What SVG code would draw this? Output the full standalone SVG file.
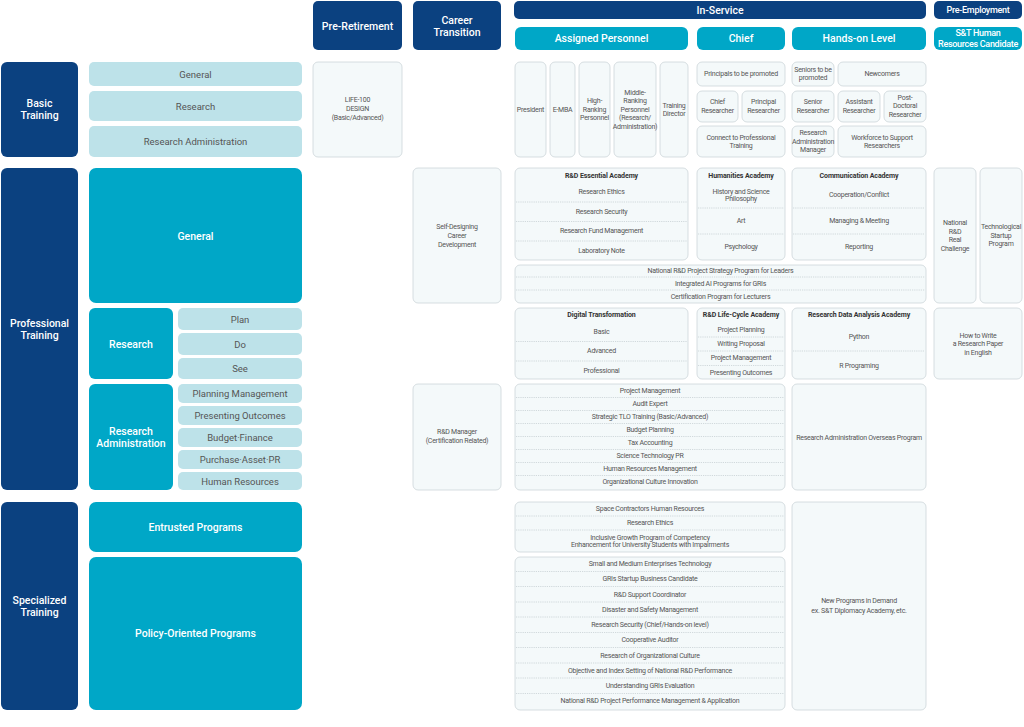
<svg xmlns="http://www.w3.org/2000/svg" width="1024" height="727" viewBox="0 0 1024 727">
<style>
.dk{fill:#0B4180}
.tl{fill:#00A7C7}
.lt{fill:#BDE2E9}
.wb{fill:#F4F9FA;stroke:#CDD6D9;stroke-width:0.8}
.dot{stroke:#B9C3C7;stroke-width:0.6;stroke-dasharray:1.2 1}
text{font-family:Roboto,"Noto Sans","Liberation Sans",sans-serif;text-anchor:middle;dominant-baseline:central}
.hw{fill:#FFFFFF;font-size:10.5px;font-weight:500}
.hs{fill:#FFFFFF;font-size:9px;font-weight:500;letter-spacing:-0.3px}
.lg{fill:#555555;font-size:9.5px}
.sm{fill:#555555;font-size:7px;letter-spacing:-0.25px}
.tt{fill:#333333;font-size:7px;font-weight:bold;letter-spacing:-0.1px}
</style>
<rect width="1024" height="727" fill="#FFFFFF"/>

<!-- Headers -->
<g id="h-pre-retirement"><rect class="dk" x="313" y="1" width="89" height="49" rx="5"/><text class="hw" x="357.5" y="26">Pre-Retirement</text></g>
<g id="h-career-transition"><rect class="dk" x="413" y="1" width="88" height="49" rx="5"/><text class="hw" x="457" y="20">Career</text><text class="hw" x="457" y="32">Transition</text></g>
<g id="h-in-service"><rect class="dk" x="514" y="1" width="412" height="18" rx="5"/><text class="hw" x="720" y="10">In-Service</text></g>
<g id="h-pre-employment"><rect class="dk" x="934" y="1" width="88" height="18" rx="5"/><text class="hs" x="978" y="10">Pre-Employment</text></g>
<g id="h-assigned"><rect class="tl" x="515" y="27" width="173" height="23" rx="6"/><text class="hw" x="601.5" y="38.5">Assigned Personnel</text></g>
<g id="h-chief"><rect class="tl" x="697" y="27" width="88" height="23" rx="6"/><text class="hw" x="741" y="38.5">Chief</text></g>
<g id="h-hands-on"><rect class="tl" x="792" y="27" width="134" height="23" rx="6"/><text class="hw" x="859" y="38.5">Hands-on Level</text></g>
<g id="h-candidate"><rect class="tl" x="934" y="27" width="88" height="23" rx="6"/><text class="hs" x="978" y="33">S&amp;T Human</text><text class="hs" x="978" y="44">Resources Candidate</text></g>

<!-- Left column -->
<g id="basic-training"><rect class="dk" x="1" y="62" width="77" height="95" rx="6"/><text class="hw" x="39.5" y="103">Basic</text><text class="hw" x="39.5" y="115">Training</text></g>
<g id="basic-general"><rect class="lt" x="89" y="62" width="213" height="24" rx="5"/><text class="lg" x="195.5" y="74">General</text></g>
<g id="basic-research"><rect class="lt" x="89" y="91" width="213" height="30" rx="5"/><text class="lg" x="195.5" y="106">Research</text></g>
<g id="basic-research-admin"><rect class="lt" x="89" y="126" width="213" height="31" rx="5"/><text class="lg" x="195.5" y="141.5">Research Administration</text></g>

<g id="professional-training"><rect class="dk" x="1" y="168" width="77" height="322" rx="6"/><text class="hw" x="39.5" y="323">Professional</text><text class="hw" x="39.5" y="335">Training</text></g>
<g id="prof-general"><rect class="tl" x="89" y="168" width="213" height="135" rx="7"/><text class="hw" x="195.5" y="236">General</text></g>
<g id="prof-research"><rect class="tl" x="89" y="308" width="84" height="71" rx="6"/><text class="hw" x="131" y="344">Research</text></g>
<g id="prof-plan"><rect class="lt" x="178" y="308" width="124" height="22" rx="5"/><text class="lg" x="240" y="319">Plan</text></g>
<g id="prof-do"><rect class="lt" x="178" y="333" width="124" height="22" rx="5"/><text class="lg" x="240" y="344">Do</text></g>
<g id="prof-see"><rect class="lt" x="178" y="358" width="124" height="21" rx="5"/><text class="lg" x="240" y="368.5">See</text></g>
<g id="prof-research-admin"><rect class="tl" x="89" y="384" width="84" height="106" rx="6"/><text class="hw" x="131" y="431">Research</text><text class="hw" x="131" y="443">Administration</text></g>
<g id="prof-planning-mgmt"><rect class="lt" x="178" y="384" width="124" height="19" rx="5"/><text class="lg" x="240" y="393.5">Planning Management</text></g>
<g id="prof-presenting"><rect class="lt" x="178" y="406" width="124" height="19" rx="5"/><text class="lg" x="240" y="415.5">Presenting Outcomes</text></g>
<g id="prof-budget"><rect class="lt" x="178" y="428" width="124" height="19" rx="5"/><text class="lg" x="240" y="437.5">Budget·Finance</text></g>
<g id="prof-purchase"><rect class="lt" x="178" y="450" width="124" height="19" rx="5"/><text class="lg" x="240" y="459.5">Purchase·Asset·PR</text></g>
<g id="prof-hr"><rect class="lt" x="178" y="472" width="124" height="18" rx="5"/><text class="lg" x="240" y="481">Human Resources</text></g>

<g id="specialized-training"><rect class="dk" x="1" y="502" width="77" height="208" rx="6"/><text class="hw" x="39.5" y="600">Specialized</text><text class="hw" x="39.5" y="612">Training</text></g>
<g id="spec-entrusted"><rect class="tl" x="89" y="502" width="213" height="50" rx="7"/><text class="hw" x="195.5" y="527">Entrusted Programs</text></g>
<g id="spec-policy"><rect class="tl" x="89" y="557" width="213" height="153" rx="7"/><text class="hw" x="195.5" y="633">Policy-Oriented Programs</text></g>

<!-- Pre-retirement / career transition -->
<g id="life-100"><rect class="wb" x="313" y="62" width="89" height="95" rx="5"/><text class="sm" x="357.5" y="100">LIFE-100</text><text class="sm" x="357.5" y="109">DESIGN</text><text class="sm" x="357.5" y="118">(Basic/Advanced)</text></g>
<g id="self-designing"><rect class="wb" x="413" y="168" width="88" height="135" rx="5"/><text class="sm" x="457" y="227">Self-Designing</text><text class="sm" x="457" y="236">Career</text><text class="sm" x="457" y="245">Development</text></g>
<g id="rd-manager"><rect class="wb" x="413" y="384" width="88" height="106" rx="5"/><text class="sm" x="457" y="432">R&amp;D Manager</text><text class="sm" x="457" y="441">(Certification Related)</text></g>

<!-- Basic training: in-service -->
<g id="president"><rect class="wb" x="515" y="62" width="31" height="95" rx="5"/><text class="sm" x="530.5" y="109.5">President</text></g>
<g id="e-mba"><rect class="wb" x="550" y="62" width="25" height="95" rx="5"/><text class="sm" x="562.5" y="109.5">E-MBA</text></g>
<g id="high-ranking"><rect class="wb" x="579" y="62" width="31" height="95" rx="5"/><text class="sm" x="594.5" y="101">High-</text><text class="sm" x="594.5" y="109.5">Ranking</text><text class="sm" x="594.5" y="118">Personnel</text></g>
<g id="middle-ranking"><rect class="wb" x="614" y="62" width="42" height="95" rx="5"/><text class="sm" x="635" y="92.5">Middle-</text><text class="sm" x="635" y="101">Ranking</text><text class="sm" x="635" y="109.5">Personnel</text><text class="sm" x="635" y="118">(Research/</text><text class="sm" x="635" y="126.5">Administration)</text></g>
<g id="training-director"><rect class="wb" x="660" y="62" width="28" height="95" rx="5"/><text class="sm" x="674" y="105.5">Training</text><text class="sm" x="674" y="114">Director</text></g>

<g id="principals-promoted"><rect class="wb" x="697" y="62" width="88" height="24" rx="5"/><text class="sm" x="741" y="74">Principals to be promoted</text></g>
<g id="chief-researcher"><rect class="wb" x="697" y="91" width="41" height="31" rx="5"/><text class="sm" x="717.5" y="102">Chief</text><text class="sm" x="717.5" y="110.5">Researcher</text></g>
<g id="principal-researcher"><rect class="wb" x="742" y="91" width="43" height="31" rx="5"/><text class="sm" x="763.5" y="102">Principal</text><text class="sm" x="763.5" y="110.5">Researcher</text></g>
<g id="connect-professional"><rect class="wb" x="697" y="126" width="88" height="31" rx="5"/><text class="sm" x="741" y="137.5">Connect to Professional</text><text class="sm" x="741" y="146">Training</text></g>

<g id="seniors-promoted"><rect class="wb" x="792" y="62" width="42" height="24" rx="5"/><text class="sm" x="813" y="69.5">Seniors to be</text><text class="sm" x="813" y="78">promoted</text></g>
<g id="newcomers"><rect class="wb" x="838" y="62" width="88" height="24" rx="5"/><text class="sm" x="882" y="74">Newcomers</text></g>
<g id="senior-researcher"><rect class="wb" x="792" y="91" width="42" height="31" rx="5"/><text class="sm" x="813" y="102">Senior</text><text class="sm" x="813" y="110.5">Researcher</text></g>
<g id="assistant-researcher"><rect class="wb" x="838" y="91" width="42" height="31" rx="5"/><text class="sm" x="859" y="102">Assistant</text><text class="sm" x="859" y="110.5">Researcher</text></g>
<g id="postdoc"><rect class="wb" x="884" y="91" width="42" height="31" rx="5"/><text class="sm" x="905" y="97.5">Post-</text><text class="sm" x="905" y="106">Doctoral</text><text class="sm" x="905" y="114.5">Researcher</text></g>
<g id="research-admin-manager"><rect class="wb" x="792" y="126" width="42" height="31" rx="5"/><text class="sm" x="813" y="133">Research</text><text class="sm" x="813" y="141.5">Administration</text><text class="sm" x="813" y="150">Manager</text></g>
<g id="workforce-support"><rect class="wb" x="838" y="126" width="88" height="31" rx="5"/><text class="sm" x="882" y="137.5">Workforce to Support</text><text class="sm" x="882" y="146">Researchers</text></g>

<!-- Professional training: in-service -->
<g id="rd-essential"><rect class="wb" x="515" y="168" width="173" height="92" rx="5"/>
<text class="tt" x="601.5" y="175.5">R&amp;D Essential Academy</text>
<text class="sm" x="601.5" y="192">Research Ethics</text>
<line class="dot" x1="516" y1="202" x2="687" y2="202"/>
<text class="sm" x="601.5" y="211.5">Research Security</text>
<line class="dot" x1="516" y1="221.5" x2="687" y2="221.5"/>
<text class="sm" x="601.5" y="231">Research Fund Management</text>
<line class="dot" x1="516" y1="241" x2="687" y2="241"/>
<text class="sm" x="601.5" y="250.5">Laboratory Note</text></g>

<g id="humanities"><rect class="wb" x="697" y="168" width="88" height="92" rx="5"/>
<text class="tt" x="741" y="175.5">Humanities Academy</text>
<text class="sm" x="741" y="191.5">History and Science</text>
<text class="sm" x="741" y="198.5">Philosophy</text>
<line class="dot" x1="698" y1="208" x2="784" y2="208"/>
<text class="sm" x="741" y="221">Art</text>
<line class="dot" x1="698" y1="234" x2="784" y2="234"/>
<text class="sm" x="741" y="247">Psychology</text></g>

<g id="communication"><rect class="wb" x="792" y="168" width="134" height="92" rx="5"/>
<text class="tt" x="859" y="175.5">Communication Academy</text>
<text class="sm" x="859" y="195">Cooperation/Conflict</text>
<line class="dot" x1="793" y1="208" x2="925" y2="208"/>
<text class="sm" x="859" y="221">Managing &amp; Meeting</text>
<line class="dot" x1="793" y1="234" x2="925" y2="234"/>
<text class="sm" x="859" y="247">Reporting</text></g>

<g id="leaders-programs"><rect class="wb" x="515" y="265" width="411" height="38" rx="5"/>
<text class="sm" x="720.5" y="270.5">National R&amp;D Project Strategy Program for Leaders</text>
<line class="dot" x1="516" y1="277" x2="925" y2="277"/>
<text class="sm" x="720.5" y="283.5">Integrated AI Programs for GRIs</text>
<line class="dot" x1="516" y1="290" x2="925" y2="290"/>
<text class="sm" x="720.5" y="296.5">Certification Program for Lecturers</text></g>

<g id="real-challenge"><rect class="wb" x="934" y="168" width="42" height="135" rx="5"/><text class="sm" x="955" y="223">National</text><text class="sm" x="955" y="231.5">R&amp;D</text><text class="sm" x="955" y="240">Real</text><text class="sm" x="955" y="248.5">Challenge</text></g>
<g id="startup-program"><rect class="wb" x="980" y="168" width="42" height="135" rx="5"/><text class="sm" x="1001" y="227">Technological</text><text class="sm" x="1001" y="235.5">Startup</text><text class="sm" x="1001" y="244">Program</text></g>
<g id="research-paper"><rect class="wb" x="934" y="308" width="88" height="71" rx="5"/><text class="sm" x="978" y="335.5">How to Write</text><text class="sm" x="978" y="344">a Research Paper</text><text class="sm" x="978" y="352.5">in English</text></g>

<g id="digital-transformation"><rect class="wb" x="515" y="308" width="173" height="71" rx="5"/>
<text class="tt" x="601.5" y="315">Digital Transformation</text>
<text class="sm" x="601.5" y="331.5">Basic</text>
<line class="dot" x1="516" y1="341.5" x2="687" y2="341.5"/>
<text class="sm" x="601.5" y="351">Advanced</text>
<line class="dot" x1="516" y1="361" x2="687" y2="361"/>
<text class="sm" x="601.5" y="370.5">Professional</text></g>

<g id="life-cycle"><rect class="wb" x="697" y="308" width="88" height="71" rx="5"/>
<text class="tt" x="741" y="315">R&amp;D Life-Cycle Academy</text>
<text class="sm" x="741" y="329.5">Project Planning</text>
<line class="dot" x1="698" y1="337" x2="784" y2="337"/>
<text class="sm" x="741" y="344">Writing Proposal</text>
<line class="dot" x1="698" y1="351" x2="784" y2="351"/>
<text class="sm" x="741" y="358">Project Management</text>
<line class="dot" x1="698" y1="365.5" x2="784" y2="365.5"/>
<text class="sm" x="741" y="372.5">Presenting Outcomes</text></g>

<g id="data-analysis"><rect class="wb" x="792" y="308" width="134" height="71" rx="5"/>
<text class="tt" x="859" y="315">Research Data Analysis Academy</text>
<text class="sm" x="859" y="337">Python</text>
<line class="dot" x1="793" y1="351" x2="925" y2="351"/>
<text class="sm" x="859" y="365.5">R Programing</text></g>

<g id="research-admin-list"><rect class="wb" x="515" y="384" width="270" height="106" rx="5"/>
<text class="sm" x="650" y="391">Project Management</text>
<line class="dot" x1="516" y1="397.5" x2="784" y2="397.5"/>
<text class="sm" x="650" y="404">Audit Expert</text>
<line class="dot" x1="516" y1="410.5" x2="784" y2="410.5"/>
<text class="sm" x="650" y="417">Strategic TLO Training (Basic/Advanced)</text>
<line class="dot" x1="516" y1="423.5" x2="784" y2="423.5"/>
<text class="sm" x="650" y="430">Budget Planning</text>
<line class="dot" x1="516" y1="436.5" x2="784" y2="436.5"/>
<text class="sm" x="650" y="443">Tax Accounting</text>
<line class="dot" x1="516" y1="449.5" x2="784" y2="449.5"/>
<text class="sm" x="650" y="456">Science Technology PR</text>
<line class="dot" x1="516" y1="462.5" x2="784" y2="462.5"/>
<text class="sm" x="650" y="469">Human Resources Management</text>
<line class="dot" x1="516" y1="475.5" x2="784" y2="475.5"/>
<text class="sm" x="650" y="482">Organizational Culture Innovation</text></g>

<g id="overseas-program"><rect class="wb" x="792" y="384" width="134" height="106" rx="5"/><text class="sm" x="859" y="437.5">Research Administration Overseas Program</text></g>

<!-- Specialized training -->
<g id="entrusted-list"><rect class="wb" x="515" y="502" width="270" height="50" rx="5"/>
<text class="sm" x="650" y="509">Space Contractors Human Resources</text>
<line class="dot" x1="516" y1="516" x2="784" y2="516"/>
<text class="sm" x="650" y="523">Research Ethics</text>
<line class="dot" x1="516" y1="530" x2="784" y2="530"/>
<text class="sm" x="650" y="537.5">Inclusive Growth Program of Competency</text>
<text class="sm" x="650" y="545">Enhancement for University Students with Impairments</text></g>

<g id="policy-list"><rect class="wb" x="515" y="557" width="270" height="153" rx="5"/>
<text class="sm" x="650" y="564">Small and Medium Enterprises Technology</text>
<line class="dot" x1="516" y1="571.5" x2="784" y2="571.5"/>
<text class="sm" x="650" y="579">GRIs Startup Business Candidate</text>
<line class="dot" x1="516" y1="586.5" x2="784" y2="586.5"/>
<text class="sm" x="650" y="594.5">R&amp;D Support Coordinator</text>
<line class="dot" x1="516" y1="602" x2="784" y2="602"/>
<text class="sm" x="650" y="609.5">Disaster and Safety Management</text>
<line class="dot" x1="516" y1="617" x2="784" y2="617"/>
<text class="sm" x="650" y="625">Research Security (Chief/Hands-on level)</text>
<line class="dot" x1="516" y1="632.5" x2="784" y2="632.5"/>
<text class="sm" x="650" y="640">Cooperative Auditor</text>
<line class="dot" x1="516" y1="647.5" x2="784" y2="647.5"/>
<text class="sm" x="650" y="655.5">Research of Organizational Culture</text>
<line class="dot" x1="516" y1="663" x2="784" y2="663"/>
<text class="sm" x="650" y="670.5">Objective and Index Setting of National R&amp;D Performance</text>
<line class="dot" x1="516" y1="678" x2="784" y2="678"/>
<text class="sm" x="650" y="686">Understanding GRIs Evaluation</text>
<line class="dot" x1="516" y1="693.5" x2="784" y2="693.5"/>
<text class="sm" x="650" y="701">National R&amp;D Project Performance Management &amp; Application</text></g>

<g id="new-programs"><rect class="wb" x="792" y="502" width="134" height="208" rx="5"/><text class="sm" x="859" y="601">New Programs in Demand</text><text class="sm" x="859" y="610.5">ex. S&amp;T Diplomacy Academy, etc.</text></g>

<g id="connectors"></g>
</svg>
